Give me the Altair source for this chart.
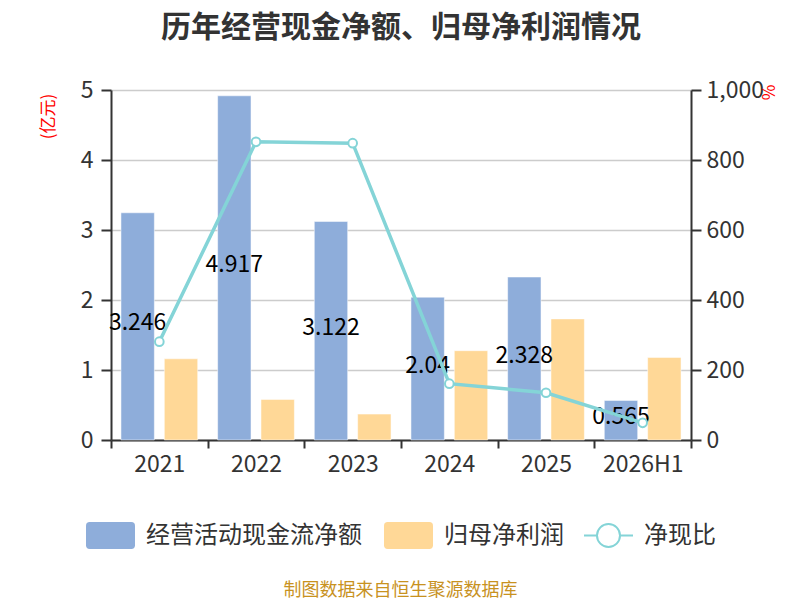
import altair as alt
import pandas as pd

years = ["2021", "2022", "2023", "2024", "2025", "2026H1"]
cash_flow = [3.246, 4.917, 3.122, 2.04, 2.328, 0.565]
net_profit = [1.16, 0.58, 0.37, 1.276, 1.73, 1.18]
ratio = [281, 852, 848, 161, 135, 49]

S_CASH = "经营活动现金流净额"
S_PROFIT = "归母净利润"
S_RATIO = "净现比"

BLUE = "#8EADDA"
ORANGE = "#FFD897"
TEAL = "#84D4D7"
FONT = "Noto Sans CJK SC"

bars_df = pd.DataFrame(
    [{"year": y, "series": S_CASH, "value": v} for y, v in zip(years, cash_flow)]
    + [{"year": y, "series": S_PROFIT, "value": v} for y, v in zip(years, net_profit)]
)
line_df = pd.DataFrame({"year": years, "ratio": ratio, "series": [S_RATIO] * len(years)})

x_enc = alt.X(
    "year:N",
    sort=years,
    scale=alt.Scale(domain=years, paddingInner=0, paddingOuter=0),
    axis=alt.Axis(
        title="制图数据来自恒生聚源数据库",
        titleColor="#C8921F",
        titleFontSize=18,
        titleFontWeight="normal",
        titleFont=FONT,
        titleX=289,
        titleY=150,
        titleAlign="center",
        titleBaseline="middle",
        labelAngle=0,
        labelFontSize=23,
        labelColor="#333333",
        labelFont=FONT,
        labelPadding=5,
        tickBand="extent",
        tickSize=8,
        tickColor="#333333",
        tickWidth=2,
        domainColor="#333333",
        domainWidth=2,
        grid=False,
    ),
)
off_scale = alt.Scale(domain=[S_CASH, S_PROFIT], paddingInner=0.23, paddingOuter=0.23)

y_left = alt.Y(
    "value:Q",
    scale=alt.Scale(domain=[0, 5], nice=False),
    axis=alt.Axis(
        values=[0, 1, 2, 3, 4, 5],
        format="d",
        title="(亿元)",
        titleColor="red",
        titleFontSize=17,
        titleFontWeight="normal",
        titleFont=FONT,
        titleAngle=-90,
        titleX=-63,
        titleY=26,
        titleAlign="center",
        titleBaseline="middle",
        labelFontSize=23,
        labelColor="#333333",
        labelFont=FONT,
        labelPadding=8,
        tickSize=10,
        tickColor="#333333",
        tickWidth=2,
        domainColor="#333333",
        domainWidth=2,
        grid=True,
        gridColor="#CCCCCC",
        gridWidth=1.5,
    ),
)

bar_path = ("M-0.85,-0.551 H0.85 Q1,-0.551 1,-0.4 V0.4 Q1,0.551 0.85,0.551 "
            "H-0.85 Q-1,0.551 -1,0.4 V-0.4 Q-1,-0.551 -0.85,-0.551 Z")
line_path = ("M-1,0 H-0.47 M0.47,0 H1 M0.47,0 A0.47,0.47 0 1 1 -0.47,0 "
             "A0.47,0.47 0 1 1 0.47,0")

bars = alt.Chart(bars_df).mark_bar(stroke="white", strokeWidth=0.5).encode(
    x=x_enc,
    xOffset=alt.XOffset("series:N", scale=off_scale),
    y=y_left,
    color=alt.Color(
        "series:N",
        scale=alt.Scale(domain=[S_CASH, S_PROFIT], range=[BLUE, ORANGE]),
        legend=alt.Legend(
            title=None,
            orient="none",
            direction="horizontal",
            legendX=-25,
            legendY=421,
            symbolType=bar_path,
            symbolSize=2401,
            symbolStrokeWidth=0,
            labelFontSize=24,
            labelFont=FONT,
            labelColor="#333333",
            labelOffset=11,
            labelLimit=400,
            columnPadding=22,
        ),
    ),
)

labels = alt.Chart(bars_df).transform_filter(
    alt.datum.series == S_CASH
).transform_calculate(
    half="datum.value / 2"
).mark_text(fontSize=23, font=FONT, color="black", baseline="middle", dy=-3).encode(
    x=alt.X("year:N", sort=years, scale=alt.Scale(domain=years, paddingInner=0, paddingOuter=0)),
    xOffset=alt.XOffset("series:N", scale=off_scale),
    y=alt.Y("half:Q", scale=alt.Scale(domain=[0, 5], nice=False)),
    text=alt.Text("value:Q"),
)

left = alt.layer(bars, labels)

line = alt.Chart(line_df).mark_line(
    strokeWidth=3.5,
    point=alt.OverlayMarkDef(filled=True, fill="white", stroke=TEAL, strokeWidth=2, size=75),
).encode(
    x=alt.X("year:N", sort=years, scale=alt.Scale(domain=years, paddingInner=0, paddingOuter=0)),
    y=alt.Y(
        "ratio:Q",
        scale=alt.Scale(domain=[0, 1000], nice=False),
        axis=alt.Axis(
            orient="right",
            values=[0, 200, 400, 600, 800, 1000],
            format=",d",
            title="%",
            titleColor="red",
            titleFontSize=17,
            titleFontWeight="normal",
            titleFont=FONT,
            titleAngle=-90,
            titleX=78,
            titleY=2,
            titleAlign="center",
            titleBaseline="middle",
            labelFontSize=23,
            labelColor="#333333",
            labelFont=FONT,
            labelPadding=5,
            tickSize=10,
            tickColor="#333333",
            tickWidth=2,
            domainColor="#333333",
            domainWidth=2,
            grid=False,
        ),
    ),
    stroke=alt.Stroke(
        "series:N",
        scale=alt.Scale(domain=[S_RATIO], range=[TEAL]),
        legend=alt.Legend(
            title=None,
            orient="none",
            legendX=472,
            legendY=420,
            symbolType=line_path,
            symbolSize=2401,
            symbolStrokeWidth=2,
            labelFontSize=24,
            labelFont=FONT,
            labelColor="#333333",
            labelOffset=10,
            labelLimit=400,
        ),
    ),
)

chart = alt.layer(left, line).resolve_scale(
    y="independent", color="independent", stroke="independent"
).properties(
    width=580,
    height=350,
    autosize=alt.AutoSizeParams(type="none"),
    padding={"left": 103, "top": 82, "right": 101, "bottom": 160},
    title=alt.TitleParams(
        "历年经营现金净额、归母净利润情况",
        fontSize=30,
        fontWeight="bold",
        font=FONT,
        color="#333333",
        anchor="middle",
        frame="group",
        baseline="alphabetic",
        offset=12,
    ),
).configure_view(stroke=None)

chart.save("out.html", embed_options={"renderer": "svg", "actions": False})
